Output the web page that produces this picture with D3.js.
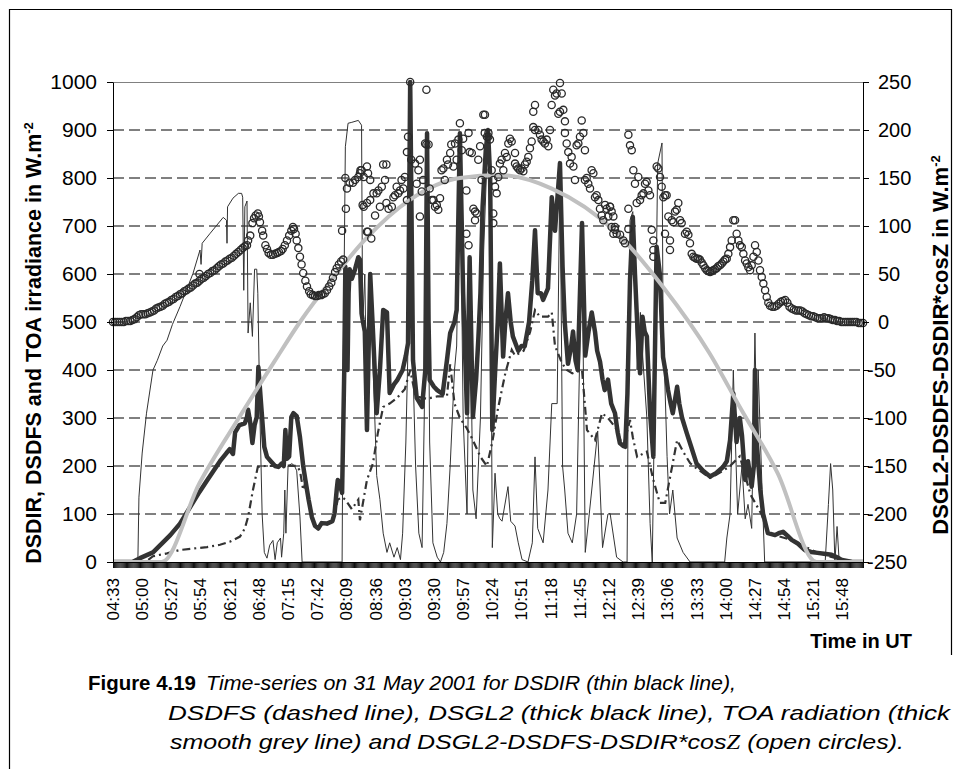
<!DOCTYPE html>
<html>
<head>
<meta charset="utf-8">
<script src="https://cdn.jsdelivr.net/npm/d3@7"></script>
<style>
  body { margin: 0; background: #fff; }
  text { font-family: "Liberation Sans", Arial, sans-serif; fill: #000; }
</style>
</head>
<body>
<svg id="chart" width="957" height="769"></svg>
<script>
// x values are minutes after 04:33 UT, one category per minute
const xTickLabels = ["04:33","05:00","05:27","05:54","06:21","06:48","07:15","07:42","08:09","08:36",
  "09:03","09:30","09:57","10:24","10:51","11:18","11:45","12:12","12:39","13:06","13:33","14:00",
  "14:27","14:54","15:21","15:48"];
const leftTicks = [0,100,200,300,400,500,600,700,800,900,1000];
const rightTicks = [-250,-200,-150,-100,-50,0,50,100,150,200,250];

// TOA radiation (thick smooth grey line)
const toa = [[0,0],[45,0],[80,164],[117,302],[150,420],[173,500],[203,590],[233,671],[275,755],
  [321,800],[358,806],[406,778],[465,688],[509,573],[552,435],[580,323],[615,185],[651,0],[694,0]];

// DSDIR (thin black line)
const dsdir = [[0,0],[23,0],[24,135],[27,227],[31,310],[37,400],[41,420],[46,450],[50,462],[55,495],
  [62,532],[74,601],[80.5,650],[81.5,620],[82.5,664],[90,685],[102,718],[105,712],[105.5,664],[106,740],
  [111,758],[116,768],[119,768],[120,760],[121,566],[122,740],[124,752],[125,477],[127,540],[129,470],
  [131,610],[133,610],[134,560],[136,300],[138,100],[140,20],[142.5,8],[145,35],[148,45],[150,5],
  [152,40],[155,50],[156,10],[158,60],[159,150],[160,60],[162,200],[165.5,205],[168,200],[170,190],
  [173,94],[175,0],[212,0],[213,400],[215,865],[217.5,914],[221,916],[227,920],[230,910],[231,490],
  [233,600],[235,300],[238,550],[240.5,420],[244,180],[247,130],[250,60],[253.5,20],[256,40],[260,10],
  [263,30],[266,5],[268,60],[271,250],[273,450],[275,1000],[277.6,400],[280,200],[283,60],[286,30],
  [288,300],[290.6,893],[293,250],[296,40],[300,10],[303,0],[306,20],[309,80],[312,200],[316,400],
  [318,450],[321,893],[324,300],[327.6,100],[330,600],[333,150],[336,90],[340,300],[343,650],[347,900],
  [349,800],[351,30],[353.5,185],[356,100],[358,90],[360,85],[365.5,157],[368,85],[372,75],[375,40],
  [378.5,5],[384,0],[388,40],[390.5,219],[393,70],[398,40],[402.5,150],[406,330],[411,330],[413.6,830],
  [416,200],[418,150],[421,60],[425,40],[429,100],[434,680],[437,20],[443,150],[448.5,273],[453,30],
  [458,100],[460,101],[466,10],[472,0],[475.7,0],[476.6,310],[478.4,712],[481,730],[485,400],[488,520],
  [490,433],[494,300],[497,80],[499,0],[501.6,400],[504,830],[508,873],[509,500],[512.7,220],[515,100],
  [518,150],[522,50],[527.5,20],[534,0],[566,0],[568,50],[571,100],[574,400],[575.6,275],[578,100],
  [582,200],[585,90],[587.6,120],[591,70],[594,477],[596,240],[597,400],[600.6,150],[603,0],[659,0],
  [662,120],[664,205],[666,150],[668,0],[670,74],[672,0],[694,0]];

// DSDFS (dashed line)
const dsdfs = [[0,0],[30,0],[37,12],[50,18],[62,25],[74,28],[87,31],[99,36],[108,42],[117.5,53],
  [122,70],[125,94],[129.5,150],[134,198],[140,200],[150,200],[160,201],[170,200],[173,190],[176,150],
  [178,165],[181,125],[184,90],[187,72],[190,68],[193,78],[198,78],[203,84],[205,100],[208,130],
  [212,135],[215,130],[221,110],[227,130],[228.5,87],[235,171],[240.5,205],[245,268],[250,323],
  [256,330],[263,342],[270,360],[275,400],[280,345],[290.6,340],[300,345],[309,345],[312,412],[316,330],
  [321,300],[327,280],[333,254],[340,219],[346,200],[351,250],[356,317],[363,393],[369,442],[372,430],
  [380,440],[386,480],[390.5,525],[395,511],[402.5,511],[406,520],[409,450],[415.5,414],[420,400],
  [425,393],[434,400],[438.6,275],[446,254],[452.5,310],[458,300],[465,280],[472,240],[478.4,296],
  [481,260],[485,219],[494,230],[500,171],[506,123],[511,123],[515,171],[522,254],[527.5,230],[534,206],
  [540,195],[552.5,175],[564.5,190],[571,200],[580,220],[590,140],[600,100],[606,60],[612,56],[628,46],
  [652,19],[675,4],[694,0]];

// DSGL2 (thick black line)
const dsgl2 = [[0,0],[18,0],[25,8],[37,20],[53,56],[62,80],[80,146],[87,170],[99,210],[105,227],
  [108,235],[111,225],[113,270],[117,285],[122,289],[124,302],[125,317],[127,290],[129,248],[131,285],
  [133,302],[134.5,406],[137,330],[140,240],[142.5,219],[146,210],[150,200],[153,198],[156,205],
  [158,200],[159.5,275],[161,215],[163,220],[165,302],[167,310],[170,304],[173,260],[176,200],[178,171],
  [181,130],[184,94],[187,75],[190,70],[193,81],[198,80],[203,85],[205,101],[207,150],[208,171],
  [210,160],[212,144],[214,400],[215,615],[216,520],[217,400],[218,560],[219,610],[221,590],[224,610],
  [227,635],[228.5,630],[230,518],[231,504],[233,480],[235,275],[238,600],[240.5,483],[244,310],
  [247,400],[250,525],[253.5,520],[256,352],[260,370],[263,379],[268,400],[271,430],[273,456],[275,1000],
  [277.6,420],[281,342],[286,323],[289,400],[290.6,893],[292,500],[293,379],[297,365],[300,358],
  [305,350],[309,420],[312,477],[316,500],[318,525],[321,893],[324,560],[327.6,310],[330,635],[333,302],
  [336,380],[338,462],[340,560],[342,740],[345,860],[347,900],[349,802],[351,275],[353.5,393],[356,500],
  [358,622],[361,428],[363,500],[365.5,560],[368,500],[370,470],[375,440],[378,450],[381,450],[385,500],
  [388,587],[390.5,691],[393,560],[396,560],[398,546],[402.5,570],[406,760],[409,690],[413.6,831],
  [416,615],[418,500],[421,413],[424,450],[425.7,480],[428,420],[430,400],[434,706],[437,430],[440,480],
  [443,520],[446,480],[448,440],[450.7,417],[453,380],[455,358],[458,380],[461,330],[464.5,310],
  [467,270],[469,248],[472,242],[474,240],[476,350],[478.4,587],[481,719],[483,600],[485,500],
  [487.7,393],[490,511],[492,480],[494,470],[497,310],[500,219],[503,657],[505,620],[506,600],[509,427],
  [511,400],[513.6,358],[516,330],[518,310],[522,365],[524,330],[526.6,300],[531,268],[535,240],
  [540,205],[546,190],[552.5,178],[558,185],[564.5,198],[568,210],[571,254],[574,351],[577,250],
  [580,300],[582,264],[585,171],[587.6,210],[591,157],[593,200],[594,400],[596,240],[599,150],
  [601.5,101],[606,60],[612.6,56],[616,60],[620,63],[624,55],[628,46],[634,38],[640,25],[646,21],
  [652,19],[658,17],[665,15],[670,10],[674.6,4],[684,0],[694,0]];

// DSGL2-DSDFS-DSDIR*cosZ (open circles, right axis)
const residMorning = [[0,0],[2,0],[4,0],[6,0],[8,0],[10,0],[12,1],[14,1],[16,1],[18,2],[20,3],[22,5],
  [24,7],[26,8],[28,8],[30,8],[32,9],[34,10],[36,11],[38,12],[40,14],[42,15],[44,16],[46,17],[48,19],
  [50,20],[52,21],[54,23],[56,24],[58,26],[60,27],[62,29],[64,30],[66,32],[68,33],[70,35],[72,36],
  [74,38],[76,40],[78,41],[80,43],[80,50],[82,45],[84,46],[86,48],[88,50],[90,51],[92,53],[94,54],
  [96,56],[98,58],[100,60],[102,61],[104,63],[106,64],[108,66],[110,67],[112,69],[114,71],[116,73],
  [118,75],[120,77],[122,79]];
const residBumps = [[124,80],[125,85],[127,90],[129,103],[130.5,108],[132,111],[134,113],[135,110],
  [136,104],[138,95],[139,90],[141,80],[142.5,76],[144,72],[146,70],[148,70],[150,71],[152,72],
  [153.5,73],[155.5,74],[157,76],[159,80],[161,85],[163,90],[165,95],[166.5,99],[167.5,97],[169,92],
  [170,85],[171.5,77],[173,68],[174.5,60],[176,51],[178,43],[179.5,37],[181.5,32],[183,29],[185,28],
  [187,27],[189,27],[190.5,28],[192.5,28],[194,29],[196,30],[198,33],[200,37],[202,41],[203.5,46],
  [205.5,52],[207,56],[209,60],[211,63],[212,95],[213,65]];
const residNoon = [[215,150],[215.5,118],[216.5,139],[219,145],[222,145],[224,148],[227,151],
  [228.5,155],[230,158],[231,122],[229,158],[232,151],[235,162],[236,155],[238,148],[232,120],[235,124],
  [238,127],[236,94],[239,87],[241,134],[244,134],[242.5,111],[245.6,137],[247,120],[248.7,141],
  [250,164],[251.7,148],[253,164],[253,124],[255,118],[258,120],[259.5,130],[261,132],[262.5,141],
  [264,134],[265.6,137],[267,148],[268.7,139],[270,151],[272,177],[272,127],[273,193],[275,250],
  [276,169],[279.5,165],[281,144],[282.6,158],[284,169],[284,110],[285.7,136],[287,148],[288.8,186],
  [290,185],[292,185],[290,242],[293,139],[295,127],[296.5,127],[298,120],[299.6,122],[301,117],
  [302.6,129],[304,158],[305.7,160],[307,148],[309,169],[310,164],[312,176],[313,185],[315,162],
  [316.5,186],[318,169],[319.6,190],[321,207],[322.7,179],[324,191],[327,137],[329,197],[330,177],
  [332,176],[333.5,118],[335,115],[336.6,113],[335,106],[338,169],[339.7,183],[341,148],[342.7,216],
  [344,197],[346,193],[347.4,197],[327,92],[329,80],[235,94]];
const residLate = [[344.2,216],[347.3,193],[348.8,190],[350.4,158],[351.9,148],[353.5,141],[355,134],
  [351.9,113],[351.9,103],[356.5,151],[358,165],[359.6,169],[361.2,158],[362.7,176],[364.3,172],
  [365.8,186],[367.3,191],[368.9,188],[372,176],[372,165],[373.5,162],[375,160],[376.6,158],[378.1,160],
  [379.7,157],[381.2,164],[382.8,167],[384.3,172],[385.8,181],[387.4,188],[388.9,203],[390.5,200],
  [390.5,226],[388.9,219],[393.6,200],[395.1,195],[396.6,190],[398.2,188],[399.7,186],[401.3,190],
  [402.8,183],[404.4,200],[405.9,226],[407.4,242],[409,236],[410.5,238],[413.6,249],[415.2,238],
  [412.1,217],[413.6,219],[416.7,221],[418.2,209],[418.2,197],[419.8,186],[421.3,177],[422.9,165],
  [424.4,172],[426,162],[427.5,148],[429,184],[430.6,186],[432.1,193],[433.7,210],[435.2,197],
  [436.7,179],[436.7,148],[438.3,150],[439.8,144],[441.4,139],[442.9,158],[444.5,155],[446,130],
  [447.5,132],[449.1,127],[450.6,118],[452.2,111],[453.7,106],[455.3,122],[456.8,118],[458.3,110],
  [459.9,120],[461.4,99],[463,92],[464.5,96]];
const residAfternoon = [[459.9,120],[461.4,115],[463,110],[464.5,99],[466.1,92],[469.2,91],[472.2,85],
  [473.8,82],[476.9,97],[476.9,118],[476.9,195],[478.4,184],[480,179],[481.5,158],[483,144],[484.6,124],
  [486.1,151],[487.7,127],[489.2,132],[490.8,134],[492.3,144],[493.8,146],[495.4,137],[496.9,132],
  [498.5,96],[500,85],[500,75],[500,68],[503.1,162],[504.6,160],[506.2,151],[507.7,141],[509.3,130],
  [510.8,132],[512.3,132],[510.8,92],[513.9,110],[515.4,85],[515.4,75],[517,106],[518.5,104],
  [520.1,115],[521.6,117],[523.1,124],[524.7,106],[526.2,103],[529.3,92],[530.9,94],[532.4,91],
  [533.9,82],[535.5,71],[537,68],[538.5,67],[540,66],[541.5,66],[543,65],[544.7,62],[546.3,59],[548,56],
  [549.4,54],[551,53],[552.5,52],[554,53],[555.5,54],[557,55],[558.6,56],[560,58],[561.7,59],[563.3,61],
  [564.8,63],[566.4,65],[567.9,66],[569.4,71],[571,78],[572.5,85],[574,106],[575.6,106],[577.1,92],
  [578.7,85],[580.2,80],[581.8,78],[583.3,71],[584.9,64],[586.4,61],[587.9,57],[589.5,54],[591,59],
  [592.6,68],[594.1,80],[595.7,73],[597.2,64],[598.7,54],[600.3,47],[601.8,40],[603.4,33]];
const residEvening = [[604.9,26],[606.4,20],[608,17],[610,16],[612,16],[614,17],[616,19],[618,21],
  [620,22],[622,23],[624,20],[626,16],[628,14],[630,13],[632,12],[634,12],[636,12],[638,11],[640,9],
  [642,8],[644,7],[646,6],[648,6],[650,5],[652,4],[654,4],[656,4],[658,5],[660,4],[662,4],[664,3],
  [666,2],[668,2],[670,1],[672,1],[674,0],[676,0],[678,0],[680,0],[682,0],[684,0],[686,0],[688,0],
  [690,-1],[692,-1],[694,-1]];

const residual = [].concat(residMorning, residBumps, residNoon, residLate, residAfternoon, residEvening);

const svg = d3.select("#chart");
const margin = {left: 113, right: 863, top: 82, bottom: 562};

const x = d3.scaleLinear().domain([0, 694]).range([margin.left, margin.right]);
const yL = d3.scaleLinear().domain([0, 1000]).range([margin.bottom, margin.top]);
const yR = d3.scaleLinear().domain([-250, 250]).range([margin.bottom, margin.top]);

// outer frame
svg.append("path")
  .attr("d", "M9.5,769 V9.5 H951.5 V655")
  .attr("fill", "none").attr("stroke", "#000").attr("stroke-width", 1.2);

// gridlines
svg.append("g").selectAll("line")
  .data(leftTicks.filter(d => d > 0 && d < 1000))
  .join("line")
  .attr("x1", margin.left).attr("x2", margin.right)
  .attr("y1", d => yL(d)).attr("y2", d => yL(d))
  .attr("stroke", "#000").attr("stroke-width", 1)
  .attr("stroke-dasharray", "11,5");

// plot area top border
svg.append("line")
  .attr("x1", margin.left).attr("x2", margin.right)
  .attr("y1", margin.top + 0.5).attr("y2", margin.top + 0.5)
  .attr("stroke", "#808080").attr("stroke-width", 1);

svg.append("clipPath").attr("id", "plotClip")
  .append("rect")
  .attr("x", margin.left).attr("y", margin.top - 2)
  .attr("width", margin.right - margin.left).attr("height", margin.bottom - margin.top + 2);

const plot = svg.append("g").attr("clip-path", "url(#plotClip)");

const line = d3.line().x(d => x(d[0])).y(d => yL(d[1]));

plot.append("path").datum(dsdir)
  .attr("d", line)
  .attr("fill", "none").attr("stroke", "#333").attr("stroke-width", 1);

plot.append("path").datum(dsdfs)
  .attr("d", line)
  .attr("fill", "none").attr("stroke", "#333").attr("stroke-width", 2.2)
  .attr("stroke-dasharray", "8,4,2,4");

plot.append("path").datum(dsgl2)
  .attr("d", line)
  .attr("fill", "none").attr("stroke", "#333").attr("stroke-width", 4.5)
  .attr("stroke-linejoin", "round");

plot.append("path").datum(toa)
  .attr("d", line.curve(d3.curveMonotoneX))
  .attr("fill", "none").attr("stroke", "#c0c0c0").attr("stroke-width", 4);

svg.append("g").selectAll("circle")
  .data(residual)
  .join("circle")
  .attr("cx", d => x(d[0]))
  .attr("cy", d => yR(d[1]))
  .attr("r", 3.6)
  .attr("fill", "none")
  .attr("stroke", "#2a2a2a")
  .attr("stroke-width", 1.3);

// x axis: a tick for every category, labels every 27 minutes
const xAxis = svg.append("g")
  .attr("transform", `translate(0,${margin.bottom})`)
  .call(d3.axisBottom(x).tickValues(d3.range(0, 695, 1)).tickSize(6).tickSizeOuter(0).tickFormat(""));
xAxis.select(".domain").attr("stroke", "#000");
xAxis.selectAll(".tick line").attr("stroke", "#000").attr("stroke-width", 0.95);

svg.append("g").selectAll("text")
  .data(xTickLabels)
  .join("text")
  .attr("transform", (d, i) => `translate(${x(i * 27)},578) rotate(-90)`)
  .attr("text-anchor", "end")
  .attr("dy", "0.35em")
  .attr("font-size", 17)
  .text(d => d);

// left axis
const leftAxis = svg.append("g")
  .attr("transform", `translate(${margin.left},0)`)
  .call(d3.axisLeft(yL).tickValues(leftTicks).tickSize(6).tickSizeOuter(0).tickPadding(10)
    .tickFormat(d3.format("d")));
leftAxis.select(".domain").attr("stroke", "#000");
leftAxis.selectAll(".tick line").attr("stroke", "#000");
leftAxis.selectAll(".tick text").attr("font-size", 21).attr("font-family", "Liberation Sans, Arial, sans-serif");

// right axis
const rightAxis = svg.append("g")
  .attr("transform", `translate(${margin.right},0)`)
  .call(d3.axisRight(yR).tickValues(rightTicks).tickSize(6).tickSizeOuter(0).tickFormat(""));
rightAxis.select(".domain").attr("stroke", "#000");
rightAxis.selectAll(".tick line").attr("stroke", "#000");

svg.append("g").selectAll("text")
  .data(rightTicks)
  .join("text")
  .attr("x", d => d < 0 ? 867 : 878)
  .attr("y", d => yR(d))
  .attr("dy", "0.35em")
  .attr("font-size", 20)
  .text(d => d);

// axis titles
const leftTitle = svg.append("text")
  .attr("transform", "translate(41,343) rotate(-90)")
  .attr("text-anchor", "middle")
  .attr("font-size", 21.5).attr("font-weight", "bold");
leftTitle.append("tspan").text("DSDIR, DSDFS and TOA irradiance in W.m");
leftTitle.append("tspan").attr("dy", -8).attr("font-size", 13).text("-2");

const rightTitle = svg.append("text")
  .attr("transform", "translate(948,345) rotate(-90)")
  .attr("text-anchor", "middle")
  .attr("font-size", 22).attr("font-weight", "bold");
rightTitle.append("tspan").text("DSGL2-DSDFS-DSDIR*cosZ in W.m");
rightTitle.append("tspan").attr("dy", -8).attr("font-size", 13).text("-2");

svg.append("text")
  .attr("x", 912).attr("y", 648)
  .attr("text-anchor", "end")
  .attr("font-size", 20).attr("font-weight", "bold")
  .text("Time in UT");

// caption: the source face is wider than ours, so each line is fitted to its width
const cap = svg.append("g").attr("font-size", 21);
cap.append("text").attr("x", 88).attr("y", 690)
  .attr("font-weight", "bold")
  .attr("textLength", 108).attr("lengthAdjust", "spacingAndGlyphs")
  .text("Figure 4.19");
cap.append("text").attr("x", 206).attr("y", 690).attr("font-style", "italic")
  .attr("textLength", 530).attr("lengthAdjust", "spacingAndGlyphs")
  .text("Time-series on 31 May 2001 for DSDIR (thin black line),");
cap.append("text").attr("x", 168).attr("y", 720).attr("font-style", "italic")
  .attr("textLength", 782).attr("lengthAdjust", "spacingAndGlyphs")
  .text("DSDFS (dashed line), DSGL2 (thick black line), TOA radiation (thick");
const cap3 = cap.append("text").attr("x", 170).attr("y", 749).attr("font-style", "italic")
  .attr("textLength", 734).attr("lengthAdjust", "spacingAndGlyphs");
cap3.append("tspan").text("smooth grey line) and DSGL2-DSDFS-DSDIR*cos");
cap3.append("tspan").attr("font-family", "Liberation Serif, serif").text("Z");
cap3.append("tspan").text(" (open circles).");
</script>
</body>
</html>
